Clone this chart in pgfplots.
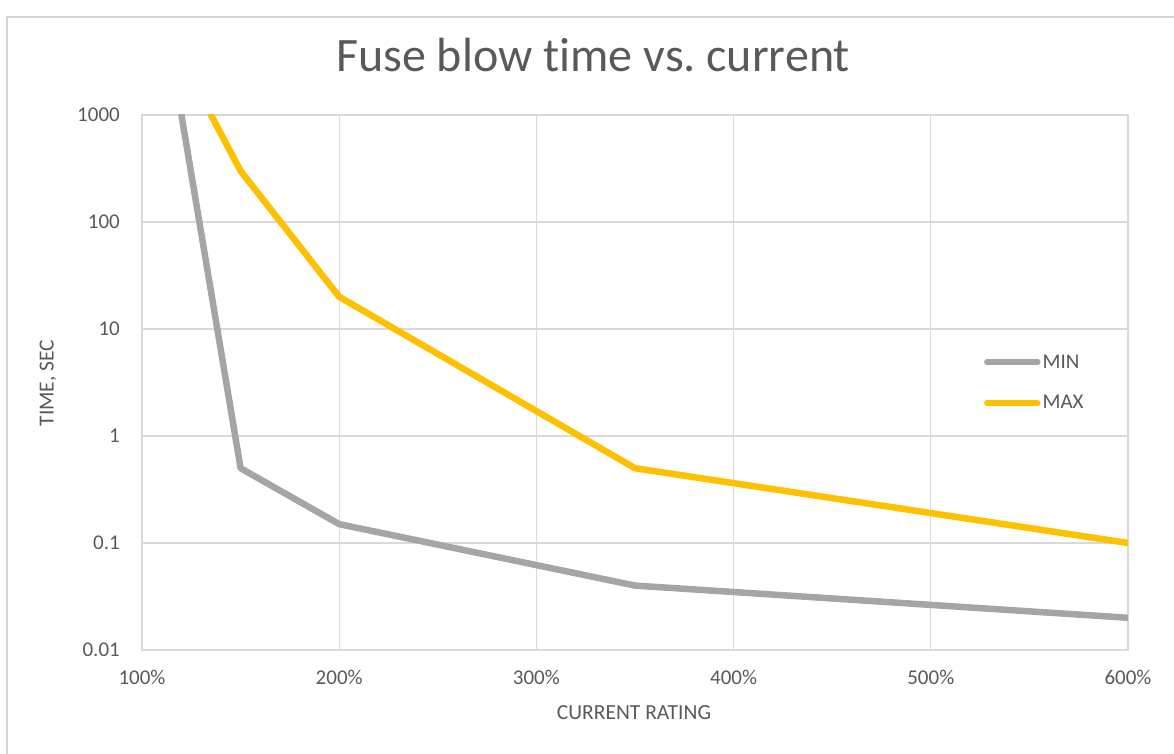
\documentclass[border=0pt]{standalone}
\usepackage{fontspec}
\setmainfont[Ligatures=NoCommon]{Carlito}
\usepackage{pgfplots}
\pgfplotsset{compat=1.18}
\definecolor{gridgray}{HTML}{D9D9D9}
\definecolor{framegray}{HTML}{D4D4D4}
\definecolor{txtgray}{HTML}{595959}
\definecolor{mingray}{HTML}{A5A5A5}
\definecolor{maxorange}{HTML}{FFC000}
\frenchspacing
\begin{document}
\begin{tikzpicture}[x=1pt,y=1pt]
\useasboundingbox (0,0) rectangle (1174,754);
\draw[framegray, line width=2pt] (7,0) -- (7,737) -- (1174,737);
\node[anchor=base, text=txtgray, font=\fontsize{48}{56}\selectfont] at (593,682) {Fuse blow time vs. current};
\node[rotate=90, inner sep=0pt, text=txtgray, font=\fontsize{21.5}{25}\selectfont] at (48,371) {TIME, SEC};
\node[inner sep=0pt, text=txtgray, font=\fontsize{21.5}{25}\selectfont] at (634,41) {CURRENT RATING};
\begin{axis}[
  at={(142pt,104pt)}, anchor=south west,
  scale only axis, width=986pt, height=535pt,
  xmin=100, xmax=600, ymin=0.01, ymax=1000,
  ymode=log,
  xtick={100,200,300,400,500,600},
  xticklabels={100\%,200\%,300\%,400\%,500\%,600\%},
  ytick={0.01,0.1,1,10,100,1000},
  yticklabels={0.01,0.1,1,10,100,1000},
  major tick length=0pt, minor tick num=0,
  log basis y=10,
  grid=major,
  major grid style={draw=gridgray, line width=1.3pt},
  axis line style={draw=gridgray, line width=1.3pt},
  tick label style={text=txtgray, font=\fontsize{21}{25}\selectfont},
  /pgf/number format/assume math mode=true,
  yticklabel style={anchor=east, inner sep=0pt, xshift=-22pt},
  xticklabel style={anchor=north, inner sep=0pt, yshift=-20pt},
  legend style={at={(rel axis cs:0.854,0.5)}, anchor=west, draw=none, fill=none,
    inner sep=0pt, outer sep=0pt, font=\fontsize{21}{25}\selectfont, text=txtgray,
    row sep=22pt, nodes={inner sep=2pt}},
  legend cell align=left,
  legend image code/.code={\draw[#1, line cap=round] (0pt,0pt) -- (50pt,0pt);},
  every axis plot/.append style={line width=6.5pt, line join=round},
]
\addplot[mingray, line cap=round] coordinates {(120,1000) (150,0.5) (200,0.15) (350,0.04) (600,0.02)};
\addlegendentry{MIN}
\addplot[maxorange, line cap=round] coordinates {(135,1000) (150,300) (200,20) (350,0.5) (600,0.1)};
\addlegendentry{MAX}
\end{axis}
\end{tikzpicture}
\end{document}
